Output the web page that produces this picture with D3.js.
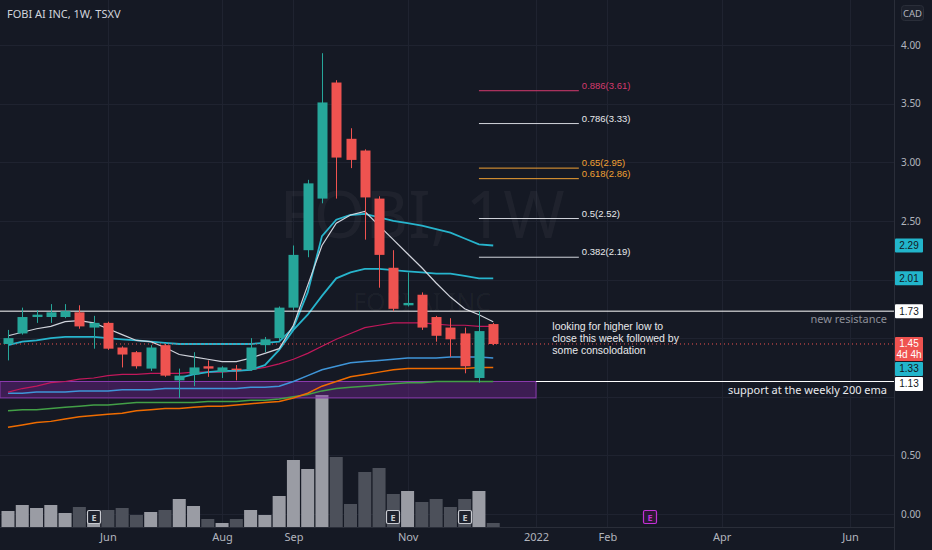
<!DOCTYPE html>
<html>
<head>
<meta charset="utf-8">
<script src="https://cdn.jsdelivr.net/npm/d3@7"></script>
<style>
body { margin: 0; background: #151924; }
svg { display: block; font-family: "Noto Sans", sans-serif; }
.tight { font-family: "Liberation Sans", Arial, sans-serif; }
</style>
</head>
<body>
<svg id="chart"></svg>
<script>
// weekly bars, FOBI AI INC on TSXV
const weeks = d3.utcMonday.range(new Date(Date.UTC(2021, 3, 19)), new Date(Date.UTC(2021, 11, 14)));

const opens  = [1.45,1.54,1.68,1.68,1.68,1.72,1.59,1.63,1.42,1.38,1.24,1.44,1.14,1.19,1.26,1.21,1.24,1.23,1.44,1.50,1.76,2.25,2.69,3.68,3.20,3.10,2.69,2.10,1.78,1.87,1.68,1.59,1.54,1.16,1.62];
const highs  = [1.57,1.76,1.74,1.79,1.79,1.78,1.69,1.64,1.43,1.39,1.44,1.45,1.24,1.38,1.31,1.26,1.27,1.50,1.51,1.77,2.29,2.85,3.93,3.70,3.29,3.11,2.71,2.25,2.06,1.89,1.69,1.67,1.59,1.73,1.63];
const lows   = [1.31,1.53,1.63,1.63,1.67,1.58,1.41,1.40,1.25,1.24,1.22,1.17,0.99,1.09,1.17,1.16,1.14,1.22,1.38,1.48,1.74,2.19,2.65,2.69,2.95,2.34,1.93,1.73,1.77,1.57,1.47,1.34,1.20,1.12,1.44];
const closes = [1.50,1.68,1.70,1.72,1.73,1.60,1.63,1.41,1.36,1.26,1.42,1.18,1.18,1.25,1.24,1.25,1.23,1.42,1.49,1.76,2.21,2.82,3.51,3.04,3.02,2.70,2.21,1.75,1.80,1.59,1.52,1.49,1.26,1.56,1.45];
const volumes = [1.6,2.2,1.9,2.2,1.4,2.0,0.5,1.7,1.9,1.2,1.5,1.7,2.8,2.1,0.8,0.4,0.8,1.7,1.2,3.1,6.7,5.8,13.2,7.0,2.3,5.5,5.9,3.3,3.6,2.5,2.8,2.0,2.8,3.6,0.4]; // millions

// moving averages (null = not drawn)
const smaFast  = [1.52,1.55,1.58,1.60,1.64,1.65,1.63,1.58,1.53,1.48,1.47,1.42,1.36,1.34,1.32,1.30,1.30,1.33,1.37,1.41,1.61,1.95,2.29,2.48,2.55,2.58,2.46,2.34,2.22,2.10,1.97,1.85,1.75,1.70,1.64];
const emaTeal1 = [1.44,1.47,1.48,1.50,1.51,1.51,1.51,1.50,1.49,1.48,1.47,1.46,1.45,1.45,1.45,1.45,1.45,1.45,1.46,1.47,1.59,1.89,2.37,2.51,2.55,2.56,2.53,2.50,2.48,2.46,2.43,2.40,2.35,2.30,2.29];
const emaTeal2 = [null,null,null,null,null,null,null,null,null,null,null,null,1.16,1.19,1.21,1.22,1.22,1.23,1.27,1.40,1.57,1.70,1.86,2.01,2.06,2.09,2.09,2.08,2.07,2.06,2.05,2.05,2.03,2.01,2.01];
const emaBlue  = [1.03,1.03,1.04,1.04,1.04,1.05,1.05,1.05,1.06,1.06,1.06,1.07,1.07,1.07,1.07,1.07,1.07,1.08,1.08,1.09,1.13,1.18,1.23,1.26,1.29,1.30,1.31,1.32,1.33,1.33,1.33,1.34,1.34,1.34,1.33];
const emaPink  = [1.04,1.07,1.09,1.12,1.13,1.15,1.16,1.18,1.19,1.19,1.20,1.20,1.20,1.21,1.21,1.21,1.22,1.23,1.25,1.28,1.32,1.37,1.43,1.49,1.54,1.59,1.61,1.63,1.63,1.63,1.62,1.61,1.61,1.60,1.60];
const emaOrange= [0.74,0.76,0.78,0.79,0.81,0.83,0.84,0.85,0.86,0.88,0.89,0.90,0.90,0.91,0.92,0.92,0.93,0.94,0.95,0.96,0.99,1.03,1.09,1.13,1.17,1.19,1.21,1.23,1.24,1.24,1.24,1.24,1.24,1.25,1.25];
const emaGreen = [0.88,0.89,0.89,0.90,0.91,0.92,0.93,0.93,0.94,0.95,0.95,0.95,0.95,0.95,0.96,0.96,0.96,0.97,0.97,0.98,1.00,1.02,1.05,1.07,1.08,1.09,1.10,1.11,1.12,1.12,1.13,1.13,1.13,1.13,1.13];

const fibRatios = [0.886, 0.786, 0.65, 0.618, 0.5, 0.382];
const fibPrices = [3.61, 3.33, 2.95, 2.86, 2.52, 2.19];
const fibStart = "2021-12-06", fibEnd = "2022-01-24";

const priceTicks = [0, 0.5, 1, 1.5, 2, 2.5, 3, 3.5, 4];
const monthTicks = ["2021-06-07","2021-08-02","2021-09-06","2021-11-01","2022-01-03","2022-02-07","2022-04-04","2022-06-06"];
const monthLabels = ["Jun","Aug","Sep","Nov","2022","Feb","Apr","Jun"];

const earningsPast = [6, 27, 32];   // week index
const earningsNext = "2022-02-28";

const resistance = 1.73, support = 1.13, lastPrice = 1.45;
const zoneTop = 1.13, zoneBottom = 0.99, zoneEnd = "2022-01-03";
const noteLines = ["looking for higher low to", "close this week followed by", "some consolodation"];

// ---- styles
const bg = "#151924", grid = "#1f2330", axisText = "#b2b5be";
const up = "#26a69a", down = "#ef5350";
const fibColor = {0.886: "#d43a6e", 0.65: "#f0a033", 0.618: "#f0a033"};

const width = 932, height = 550, plotRight = 894, plotBottom = 527;
const parse = d3.utcParse("%Y-%m-%d");

const svg = d3.select("#chart").attr("width", width).attr("height", height);
svg.append("rect").attr("width", width).attr("height", height).attr("fill", bg);

const x = d3.scaleUtc()
    .domain([new Date(Date.UTC(2021, 3, 19)), new Date(Date.UTC(2022, 5, 6))])
    .range([8, 850]);
const y = d3.scaleLinear().domain([0, 4]).range([514, 45]);
const yVol = d3.scaleLinear().domain([0, d3.max(volumes)]).range([plotBottom, 395]);

const plot = svg.append("g");

// grid
plot.append("g").selectAll("line").data(priceTicks).enter().append("line")
    .attr("x1", 0).attr("x2", plotRight)
    .attr("y1", d => Math.round(y(d)) + 0.5).attr("y2", d => Math.round(y(d)) + 0.5)
    .attr("stroke", grid);
plot.append("g").selectAll("line").data(monthTicks).enter().append("line")
    .attr("x1", d => Math.round(x(parse(d))) + 0.5).attr("x2", d => Math.round(x(parse(d))) + 0.5)
    .attr("y1", 0).attr("y2", plotBottom)
    .attr("stroke", grid);

// watermark
plot.append("text").attr("x", 422).attr("y", 238).attr("text-anchor", "middle")
    .attr("font-size", 66).attr("fill", "rgba(255,255,255,0.045)").text("FOBI, 1W");
plot.append("text").attr("x", 422).attr("y", 311).attr("text-anchor", "middle")
    .attr("font-size", 25).attr("fill", "rgba(255,255,255,0.045)").text("FOBI AI INC");

// volume
plot.append("g").selectAll("rect").data(volumes).enter().append("rect")
    .attr("x", (d, i) => x(weeks[i]) - 6.5)
    .attr("width", 13)
    .attr("y", d => yVol(d))
    .attr("height", d => plotBottom - yVol(d))
    .attr("fill", (d, i) => closes[i] >= opens[i] ? "#9a9ca4" : "#4c505a");

// support zone
plot.append("rect")
    .attr("x", 0).attr("width", x(parse(zoneEnd)))
    .attr("y", y(zoneTop)).attr("height", y(zoneBottom) - y(zoneTop))
    .attr("fill", "rgba(126,37,160,0.38)").attr("stroke", "#8a3aad").attr("stroke-width", 1);

// averages
const line = d3.line().defined(d => d != null).x((d, i) => x(weeks[i])).y(d => y(d));
const series = [
    [emaGreen, "#43a047", 1.5], [emaOrange, "#ef6c00", 1.5], [emaBlue, "#3f95d8", 1.5],
    [emaPink, "#c2185b", 1.2], [emaTeal2, "#27b4cc", 1.8], [emaTeal1, "#27b4cc", 1.8],
    [smaFast, "#d1d4dc", 1.2]
];
series.forEach(s => {
    plot.append("path").datum(s[0]).attr("d", line)
        .attr("fill", "none").attr("stroke", s[1]).attr("stroke-width", s[2]);
});

// horizontal levels
plot.append("line").attr("x1", 0).attr("x2", plotRight)
    .attr("y1", y(resistance)).attr("y2", y(resistance)).attr("stroke", "#ffffff");
plot.append("line").attr("x1", x(parse(zoneEnd))).attr("x2", plotRight)
    .attr("y1", y(support)).attr("y2", y(support)).attr("stroke", "#ffffff");
plot.append("line").attr("x1", 0).attr("x2", plotRight)
    .attr("y1", y(lastPrice)).attr("y2", y(lastPrice))
    .attr("stroke", down).attr("stroke-dasharray", "1,3");

// candles
const candle = plot.append("g").selectAll("g").data(weeks).enter().append("g");
candle.append("line")
    .attr("x1", d => Math.round(x(d)) + 0.5).attr("x2", d => Math.round(x(d)) + 0.5)
    .attr("y1", (d, i) => y(highs[i])).attr("y2", (d, i) => y(lows[i]))
    .attr("stroke", (d, i) => closes[i] >= opens[i] ? up : down);
candle.append("rect")
    .attr("x", d => Math.round(x(d)) - 4.5)
    .attr("width", 10)
    .attr("y", (d, i) => y(Math.max(opens[i], closes[i])))
    .attr("height", (d, i) => Math.max(1.5, Math.abs(y(opens[i]) - y(closes[i]))))
    .attr("fill", (d, i) => closes[i] >= opens[i] ? up : down);

// fib levels, labels nudged apart when two levels sit close
const fibLabelY = fibPrices.map(p => y(p) - 2);
for (let i = fibLabelY.length - 2; i >= 0; i--) {
    if (fibLabelY[i + 1] - fibLabelY[i] < 11) fibLabelY[i] = fibLabelY[i + 1] - 11;
}
const fib = plot.append("g").selectAll("g").data(fibRatios).enter().append("g");
fib.append("line")
    .attr("x1", x(parse(fibStart))).attr("x2", x(parse(fibEnd)))
    .attr("y1", (d, i) => y(fibPrices[i])).attr("y2", (d, i) => y(fibPrices[i]))
    .attr("stroke", d => fibColor[d] || "#d1d4dc");
fib.append("text").attr("class", "tight")
    .attr("x", x(parse(fibEnd)) + 3)
    .attr("y", (d, i) => fibLabelY[i])
    .attr("font-size", 9.5)
    .attr("fill", d => fibColor[d] || "#e8e9ec")
    .text((d, i) => d + "(" + fibPrices[i].toFixed(2) + ")");

// notes
plot.append("text").attr("x", plotRight - 7).attr("y", y(resistance) + 12)
    .attr("text-anchor", "end").attr("font-size", 11).attr("fill", "#8c8f98").text("new resistance");
plot.append("text").attr("x", plotRight - 7).attr("y", y(support) + 12)
    .attr("text-anchor", "end").attr("font-size", 11).attr("fill", "#e8e9ec").text("support at the weekly 200 ema");
plot.append("g").selectAll("text").data(noteLines).enter().append("text").attr("class", "tight")
    .attr("x", x(parse("2022-01-10")) + 2)
    .attr("y", (d, i) => y(1.57) + i * 12)
    .attr("font-size", 10.5).attr("fill", "#e8e9ec").text(d => d);

// earnings markers
function eMark(cx, color, fill) {
    const g = plot.append("g").attr("transform", "translate(" + Math.round(cx) + ",517)");
    g.append("rect").attr("x", -6.5).attr("y", -6.5).attr("width", 13).attr("height", 13).attr("rx", 1.5)
        .attr("fill", fill).attr("stroke", color).attr("stroke-width", 1.2);
    g.append("text").attr("y", 3.5).attr("text-anchor", "middle").attr("font-size", 9)
        .attr("font-weight", "bold").attr("fill", color).text("E");
}
earningsPast.forEach(i => eMark(x(weeks[i]), "#c8cad0", "#1e222d"));
eMark(x(parse(earningsNext)), "#c330d6", "#2a1a33");

// header
svg.append("text").attr("x", 7).attr("y", 18).attr("font-size", 11).attr("fill", "#d1d4dc")
    .text("FOBI AI INC, 1W, TSXV");

// axes
svg.append("rect").attr("x", plotRight).attr("y", 0).attr("width", width - plotRight).attr("height", height).attr("fill", bg);
svg.append("rect").attr("x", 0).attr("y", plotBottom).attr("width", width).attr("height", height - plotBottom).attr("fill", bg);
svg.append("line").attr("x1", plotRight + 0.5).attr("x2", plotRight + 0.5).attr("y1", 0).attr("y2", height).attr("stroke", "#2a2e39");
svg.append("line").attr("x1", 0).attr("x2", plotRight).attr("y1", plotBottom + 0.5).attr("y2", plotBottom + 0.5).attr("stroke", "#2a2e39");

// last value labels on the price scale (placed first so covered ticks can be dropped)
const tags = [
    {v: emaTeal1[emaTeal1.length - 1], bg: "#22b5cb", fg: "#131722", h: 14},
    {v: emaTeal2[emaTeal2.length - 1], bg: "#22b5cb", fg: "#131722", h: 14},
    {v: resistance, bg: "#ffffff", fg: "#131722", h: 14},
    {v: lastPrice, bg: down, fg: "#ffffff", h: 24, sub: "4d 4h"},
    {v: emaBlue[emaBlue.length - 1], bg: "#22b5cb", fg: "#131722", h: 14},
    {v: support, bg: "#ffffff", fg: "#131722", h: 14}
];
let prevBottom = -Infinity;
tags.forEach(t => {
    let top = t.sub ? y(t.v) - 7 : y(t.v) - t.h / 2;
    if (top < prevBottom + 1) top = prevBottom + 1;
    prevBottom = top + t.h;
    t.top = top;
});
const covered = d => tags.some(t => y(d) + 6 > t.top && y(d) - 6 < t.top + t.h);

const yAxis = svg.append("g").attr("transform", "translate(" + plotRight + ",0)")
    .call(d3.axisRight(y).tickValues(priceTicks.filter(d => !covered(d)))
        .tickFormat(d3.format(".2f")).tickSize(0).tickPadding(7));
yAxis.select(".domain").remove();
yAxis.selectAll("text").attr("fill", axisText).attr("font-size", 10).attr("font-family", "Noto Sans, sans-serif");

const xAxis = svg.append("g").attr("transform", "translate(0," + plotBottom + ")")
    .call(d3.axisBottom(x).tickValues(monthTicks.map(parse))
        .tickFormat((d, i) => monthLabels[i]).tickSize(0).tickPadding(6));
xAxis.select(".domain").remove();
xAxis.selectAll("text").attr("fill", axisText).attr("font-size", 11).attr("font-family", "Noto Sans, sans-serif");

// currency box
svg.append("rect").attr("x", 901.5).attr("y", 5.5).attr("width", 22).attr("height", 15).attr("rx", 3)
    .attr("fill", "#1c202b").attr("stroke", "#2a2e39");
svg.append("text").attr("x", 912.5).attr("y", 16.5).attr("text-anchor", "middle").attr("font-size", 9.5)
    .attr("fill", axisText).text("CAD");

tags.forEach(t => {
    svg.append("rect").attr("x", plotRight + 1).attr("y", t.top).attr("width", 28).attr("height", t.h)
        .attr("rx", 1).attr("fill", t.bg);
    svg.append("text").attr("class", "tight").attr("x", plotRight + 15).attr("y", t.top + 10.5)
        .attr("text-anchor", "middle").attr("font-size", 10).attr("fill", t.fg).text(t.v.toFixed(2));
    if (t.sub) {
        svg.append("text").attr("class", "tight").attr("x", plotRight + 15).attr("y", t.top + 21.5)
            .attr("text-anchor", "middle").attr("font-size", 10).attr("fill", t.fg).text(t.sub);
    }
});
</script>
</body>
</html>
